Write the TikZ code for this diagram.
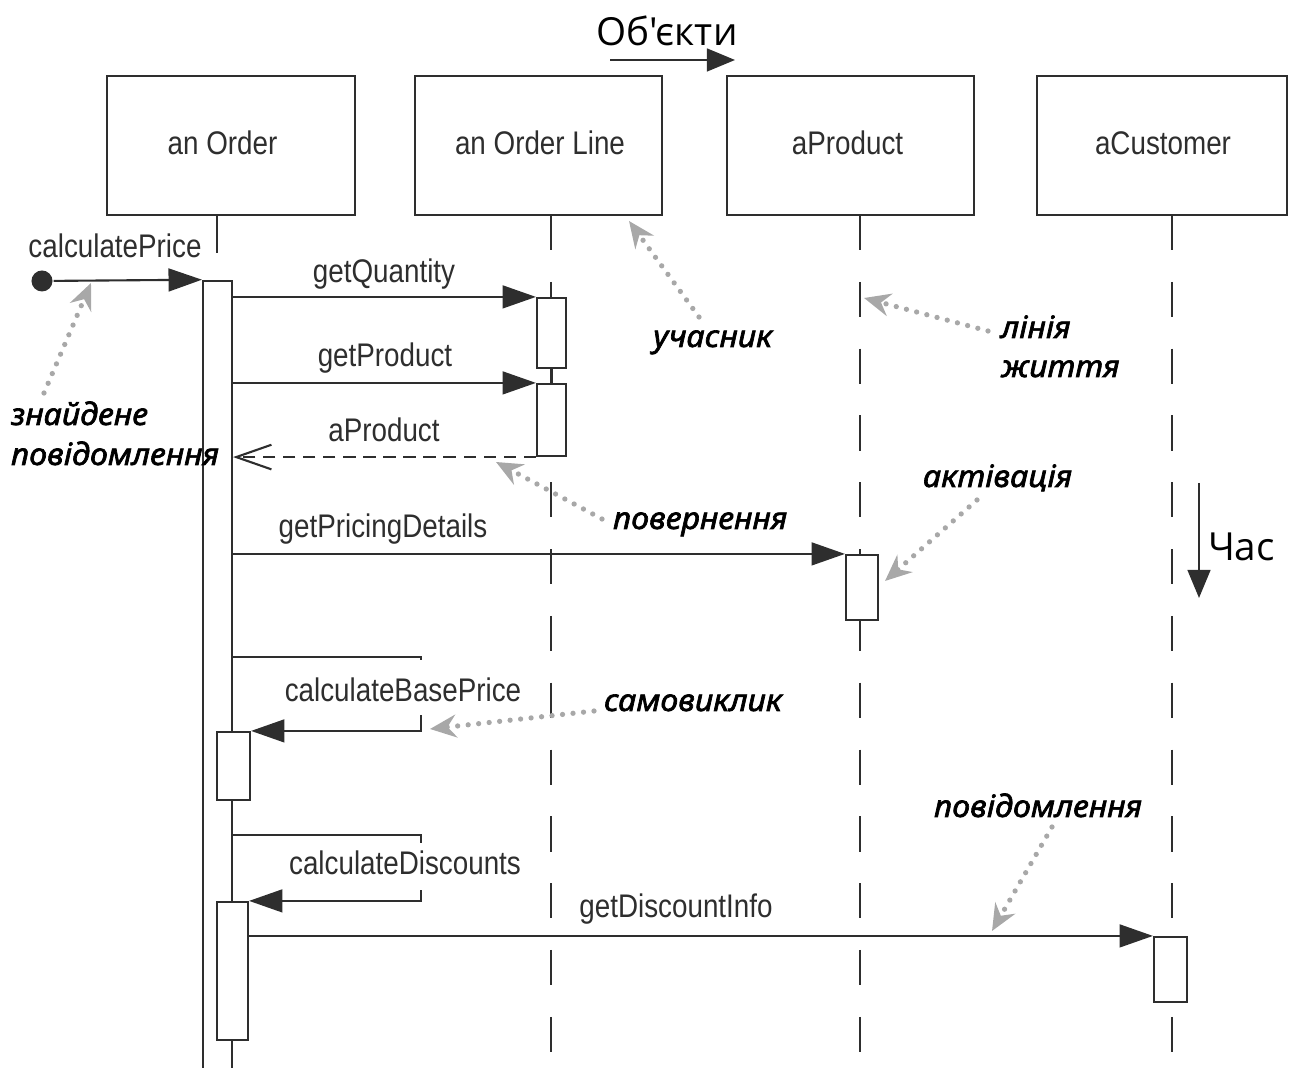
\documentclass[tikz,border=0pt]{standalone}
\usepackage{fontspec}
\setmainfont{Liberation Sans}[FakeStretch=0.85]
\newfontfamily\notefont{Noto Sans}[FakeStretch=1.05, ItalicFeatures={FakeBold=2.2}]
\newfontfamily\titlefont{Open Sans}
\usetikzlibrary{arrows.meta}
\definecolor{ink}{gray}{0.18}
\definecolor{hint}{gray}{0.66}

\begin{document}
\begin{tikzpicture}[x=0.01cm,y=-0.01cm,
  line width=0.6pt, draw=ink,
  objbox/.style={draw=ink, minimum height=1.39cm, inner sep=0pt},
  actbar/.style={draw=ink, fill=white, inner sep=0pt},
  umltext/.style={text=ink, font=\fontsize{9.3}{11}\selectfont, inner sep=0pt, anchor=base},
  selflabel/.style={umltext, fill=white, inner xsep=1pt, inner ysep=1pt},
  lifeline/.style={draw=ink, dash pattern=on 10pt off 9pt},
  call/.style={draw=ink, -{Triangle[length=9.5pt,width=6.5pt]}},
  reply/.style={draw=ink, dash pattern=on 3.5pt off 2.2pt, -{Straight Barb[length=10pt,width=7pt]}},
  note/.style={font=\notefont\itshape\fontsize{8.7}{10}\selectfont, inner sep=0pt, anchor=base west},
  pointer/.style={draw=hint, line width=1.5pt, line cap=round, dash pattern=on 0pt off 3pt,
    -{Stealth[length=7.5pt,width=6.5pt,inset=2.5pt,fill=hint]}},
  axis/.style={draw=ink, -{Triangle[length=8pt,width=6.5pt]}},
  bigtext/.style={font=\titlefont\fontsize{11}{13}\selectfont, inner sep=0pt}
]
\useasboundingbox (0,0) rectangle (1291,1068);

% participants
\node[objbox, minimum width=2.48cm] (o1) at (231,145.5) {};
\node[objbox, minimum width=2.47cm] (o2) at (538.5,145.5) {};
\node[objbox, minimum width=2.47cm] (o3) at (850.5,145.5) {};
\node[objbox, minimum width=2.50cm] (o4) at (1162,145.5) {};
\node[umltext] (t1) at (222.5,155) {an Order};
\node[umltext] (t2) at (540,155) {an Order Line};
\node[umltext] (t3) at (847.5,155) {aProduct};
\node[umltext] (t4) at (1163,155) {aCustomer};

% lifelines
\coordinate (L1top) at (217,215);
\coordinate (L1end) at (217,253);
\coordinate (L2top) at (551,215);
\coordinate (L2bot) at (551,1068);
\coordinate (L3top) at (860,215);
\coordinate (L3bot) at (860,1068);
\coordinate (L4top) at (1172,215);
\coordinate (L4bot) at (1172,1068);
\draw (L1top) -- (L1end);
\draw[lifeline] (L2top) -- (L2bot);
\draw[lifeline] (L3top) -- (L3bot);
\draw[lifeline] (L4top) -- (L4bot);

% activations
\node[actbar, minimum width=0.29cm, minimum height=8.08cm] (a0) at (217.5,685) {};
\node[actbar, minimum width=0.29cm, minimum height=0.70cm] (b1) at (551.5,333) {};
\node[actbar, minimum width=0.29cm, minimum height=0.72cm] (b2) at (551.5,420) {};
\draw (b1.south) -- (b2.north);
\node[actbar, minimum width=0.32cm, minimum height=0.65cm] (c1) at (862,587.5) {};
\node[actbar, minimum width=0.33cm, minimum height=0.68cm] (a1) at (233.5,766) {};
\node[actbar, minimum width=0.31cm, minimum height=1.38cm] (a2) at (232.5,971) {};
\node[actbar, minimum width=0.33cm, minimum height=0.65cm] (d1) at (1170.5,969.5) {};

% found message
\node[circle, fill=ink, inner sep=0pt, minimum size=0.21cm] (start) at (42,281) {};
\draw[call] (start) -- (a0.north west);
\node[umltext] (m0) at (115,258) {calculatePrice};

% messages to the order line
\draw[call] (a0.east |- b1.north west) -- (b1.north west);
\node[umltext] (m1) at (384,283) {getQuantity};
\draw[call] (a0.east |- b2.north west) -- (b2.north west);
\node[umltext] (m2) at (385,367) {getProduct};
\draw[reply] (b2.south west) -- (a0.east |- b2.south west);
\node[umltext] (m3) at (384,442) {aProduct};

% message to the product
\draw[call] (a0.east |- c1.north west) -- (c1.north west);
\node[umltext] (m4) at (383,538) {getPricingDetails};

% self calls
\coordinate (s1) at (421,657);
\draw[call] (a0.east |- s1) -- (s1) -- (s1 |- a1.north) -- (a1.north east);
\node[selflabel, text height=11pt, text depth=2.7pt] (m5) at (403,702) {calculateBasePrice};
\coordinate (s2) at (421,835);
\draw[call] (a0.east |- s2) -- (s2) -- (s2 |- a2.north) -- (a2.north east);
\node[selflabel, text height=8pt, text depth=3.3pt] (m6) at (405,875) {calculateDiscounts};

% message to the customer
\draw[call] (a2.east |- d1.north) -- (d1.north west);
\node[umltext] (m7) at (676,918) {getDiscountInfo};

% axes
\node[bigtext, anchor=base] (objs) at (667,46) {Об'єкти};
\coordinate (oa) at (610,60);
\coordinate (ob) at (735,60);
\draw[axis] (oa) -- (ob);
\node[bigtext, anchor=base west] (time) at (1207,561) {Час};
\coordinate (ta) at (1199,483);
\coordinate (tb) at (1199,598);
\draw[axis] (ta) -- (tb);

% annotations
\node[note] (n1) at (10,425) {знайдене};
\node[note] (n2) at (10,465) {повідомлення};
\coordinate (n1from) at (44,393);
\coordinate (n1to) at (91,283);
\draw[pointer] (n1from) -- (n1to);

\node[note] (n3) at (652,347) {учасник};
\coordinate (n3from) at (699,317);
\coordinate (n3to) at (629,221);
\draw[pointer] (n3from) -- (n3to);

\node[note] (n4) at (1000,338) {лінія};
\node[note] (n5) at (1000,377) {життя};
\coordinate (n4from) at (988,331);
\coordinate (n4to) at (864,298);
\draw[pointer] (n4from) -- (n4to);

\node[note] (n6) at (612,529) {повернення};
\coordinate (n6from) at (602,519);
\coordinate (n6to) at (496,462);
\draw[pointer] (n6from) -- (n6to);

\node[note] (n7) at (922,487) {актівація};
\coordinate (n7from) at (977,500);
\coordinate (n7to) at (885,581);
\draw[pointer] (n7from) -- (n7to);

\node[note] (n8) at (603,711) {самовиклик};
\coordinate (n8from) at (594,711);
\coordinate (n8to) at (430,729);
\draw[pointer] (n8from) -- (n8to);

\node[note] (n9) at (933,817) {повідомлення};
\coordinate (n9from) at (1052,827);
\coordinate (n9to) at (992,931);
\draw[pointer] (n9from) -- (n9to);
\end{tikzpicture}
\end{document}
